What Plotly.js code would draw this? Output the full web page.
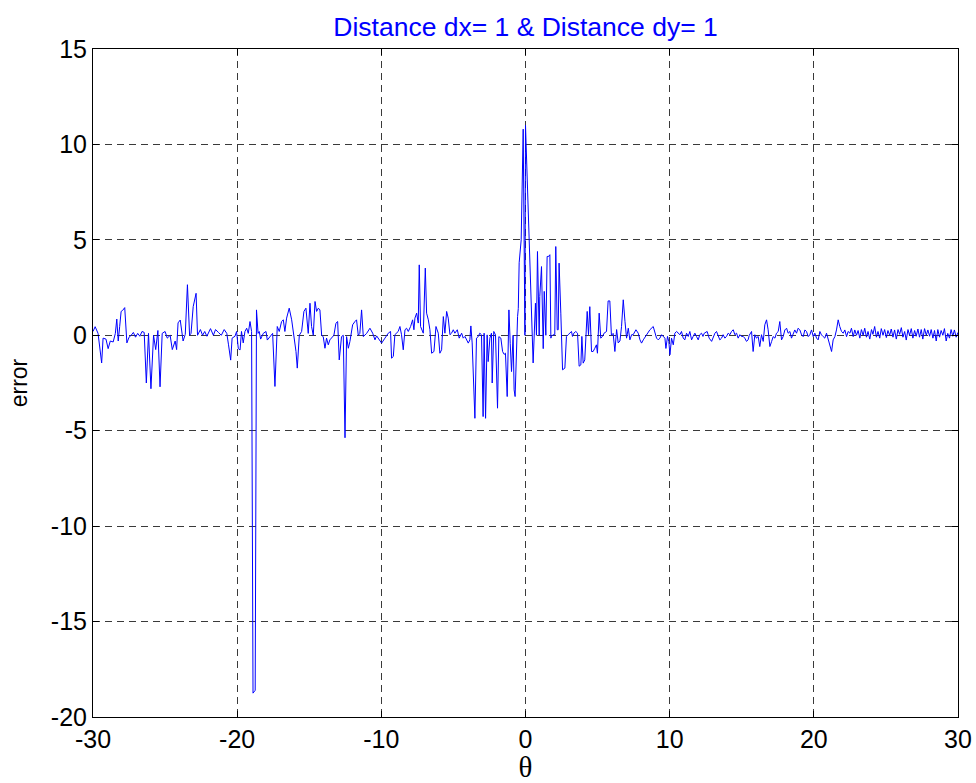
<!DOCTYPE html>
<html>
<head>
<meta charset="utf-8">
<script src="https://cdn.plot.ly/plotly-3.0.1.min.js"></script>
<style>html,body{margin:0;padding:0;background:#fff;}#chart{width:976px;height:783px;}</style>
</head>
<body>
<div id="chart"></div>
<script>
// theta (x) values
const theta = [
-30.0,-29.85,-29.65,-29.4,-29.3,-29.1,-28.95,-28.8,-28.6,-28.45,-28.35,-28.25,-28.15,-28.05,-27.95,-27.8,-27.65,-27.5,-27.35,-27.2,
-27.05,-26.9,-26.75,-26.6,-26.45,-26.3,-26.15,-25.98,-25.8,-25.65,-25.5,-25.35,-25.2,-25.0,-24.85,-24.65,-24.5,-24.3,-24.2,-24.1,
-23.95,-23.75,-23.6,-23.45,-23.3,-23.2,-23.05,-22.85,-22.75,-22.55,-22.4,-22.25,-22.1,-22.0,-21.85,-21.65,-21.5,-21.3,-21.1,-20.9,
-20.72,-20.6,-20.45,-20.35,-20.15,-20.04,-19.92,-19.8,-19.7,-19.58,-19.46,-19.34,-19.23,-19.11,-19.0,-18.9,-18.75,-18.66,-18.55,-18.47,
-18.37,-18.19,-18.0,-17.91,-17.73,-17.54,-17.38,-17.22,-17.08,-16.92,-16.8,-16.69,-16.57,-16.39,-16.22,-16.06,-15.92,-15.83,-15.69,-15.53,
-15.37,-15.23,-15.07,-14.95,-14.84,-14.72,-14.6,-14.49,-14.37,-14.26,-14.14,-14.03,-13.91,-13.8,-13.68,-13.57,-13.45,-13.29,-13.15,-13.03,
-12.92,-12.76,-12.64,-12.52,-12.41,-12.29,-12.18,-11.99,-11.83,-11.72,-11.6,-11.49,-11.37,-11.25,-11.02,-10.79,-10.6,-10.44,-10.33,-10.14,
-9.98,-9.75,-9.52,-9.36,-9.29,-9.17,-9.06,-8.83,-8.71,-8.6,-8.48,-8.36,-8.25,-8.13,-7.97,-7.83,-7.74,-7.67,-7.55,-7.44,
-7.37,-7.28,-7.09,-6.95,-6.86,-6.74,-6.63,-6.51,-6.35,-6.21,-6.05,-5.94,-5.82,-5.7,-5.59,-5.47,-5.36,-5.24,-5.13,-5.01,
-4.9,-4.73,-4.6,-4.43,-4.32,-4.2,-4.09,-3.97,-3.86,-3.79,-3.7,-3.51,-3.4,-3.28,-3.17,-3.05,-2.94,-2.87,-2.77,-2.66,
-2.59,-2.47,-2.36,-2.31,-2.2,-2.08,-1.94,-1.85,-1.71,-1.59,-1.48,-1.39,-1.27,-1.15,-1.06,-0.97,-0.86,-0.79,-0.72,-0.62,
-0.55,-0.5,-0.44,-0.3,-0.16,-0.04,0.0,0.53,0.69,0.76,0.83,0.95,0.99,1.11,1.18,1.23,1.3,1.37,
1.41,1.5,1.6,1.69,1.76,1.8,1.92,2.03,2.1,2.2,2.27,2.33,2.45,2.57,2.73,2.84,2.96,3.07,3.19,3.26,
3.35,3.49,3.61,3.72,3.84,3.91,4.0,4.11,4.18,4.28,4.37,4.46,4.58,4.69,4.81,4.92,4.99,5.11,5.22,5.34,
5.45,5.62,5.73,5.85,5.96,6.08,6.2,6.32,6.43,6.55,6.66,6.78,6.9,7.01,7.13,7.24,7.36,7.47,7.66,7.82,
7.94,8.05,8.17,8.4,8.63,8.86,8.98,9.09,9.21,9.32,9.44,9.67,9.74,9.85,9.94,10.02,10.13,10.25,10.36,10.48,
10.71,10.82,10.94,11.05,11.17,11.29,11.4,11.52,11.63,11.75,11.86,11.98,12.09,12.21,12.31,12.4,12.6,12.74,12.91,13.02,
13.14,13.25,13.37,13.48,13.6,13.71,13.83,13.94,14.06,14.18,14.29,14.41,14.52,14.64,14.75,14.87,14.98,15.1,15.21,15.33,
15.44,15.52,15.68,15.79,15.91,16.02,16.14,16.25,16.37,16.49,16.6,16.72,16.83,16.95,17.07,17.18,17.3,17.41,17.53,17.64,
17.76,17.87,17.99,18.11,18.22,18.34,18.45,18.57,18.68,18.8,18.91,19.03,19.15,19.26,19.38,19.49,19.61,19.72,19.84,19.96,
20.07,20.19,20.3,20.42,20.53,20.65,20.76,20.88,21.0,21.11,21.23,21.34,21.46,21.57,21.69,21.8,21.92,22.04,22.15,22.27,
22.38,22.5,22.61,22.73,22.84,22.96,23.07,23.19,23.3,23.42,23.53,23.65,23.76,23.88,24.0,24.1,24.22,24.34,24.45,24.57,
24.68,24.8,24.91,25.03,25.14,25.26,25.37,25.49,25.6,25.72,25.84,25.95,26.07,26.18,26.3,26.41,26.53,26.64,26.76,26.87,
26.99,27.1,27.22,27.33,27.45,27.56,27.68,27.8,27.91,28.03,28.14,28.26,28.37,28.49,28.6,28.72,28.83,28.95,29.06,29.18,
29.29,29.41,29.52,29.64,29.75,29.87,30.0
];
// error (y) values
const errorVals = [
0.2,0.45,0.1,-1.45,-0.15,-0.2,-0.7,-0.3,-0.35,0.1,0.85,-0.3,0.45,1.25,1.3,1.45,-0.4,-0.1,0.0,0.15,
-0.1,0.1,-0.05,0.2,0.15,-2.5,0.1,-2.8,0.0,-0.75,0.25,-2.7,0.1,0.2,-0.15,0.0,-0.75,-0.3,-0.75,0.65,
0.8,-0.3,0.05,2.65,0.0,0.1,1.5,2.2,0.0,0.3,0.0,0.2,-0.05,0.1,0.35,0.0,0.3,0.15,0.0,0.3,
0.1,-0.5,-1.3,-0.15,-0.05,0.2,-0.7,-0.77,0.2,-0.4,0.2,0.37,0.1,0.72,0.2,-18.75,-18.6,1.33,0.1,0.2,
-0.2,0.1,0.2,-0.25,-0.05,0.1,-2.68,0.46,0.2,0.72,0.81,0.2,0.9,1.42,0.81,0.03,-0.85,-1.72,0.0,0.2,
1.25,1.42,0.1,1.68,0.46,0.0,1.77,1.25,1.42,1.33,0.0,-0.07,-0.68,-0.15,-0.5,-0.24,-0.15,0.0,0.63,0.72,
-1.29,-0.07,0.0,-5.37,-0.07,-0.68,-0.33,0.55,0.72,0.81,0.0,0.1,1.33,-0.07,0.1,0.37,0.11,-0.24,-0.03,-0.24,
-0.41,-0.15,0.11,0.2,-1.2,-1.11,0.03,0.2,0.46,0.03,-0.76,0.29,0.37,0.2,0.46,0.81,0.29,0.9,1.16,0.64,
3.69,0.46,0.11,3.52,1.16,0.81,0.29,-0.94,-0.85,0.46,0.11,-0.94,-0.76,0.98,0.11,1.25,0.9,0.03,0.11,0.29,
0.11,0.29,-0.15,0.11,-0.15,-0.06,-0.24,-0.41,-0.24,0.49,-0.4,-4.35,-0.15,-0.07,0.11,0.02,-4.26,0.11,-4.35,0.02,
-1.38,-0.15,0.11,-2.5,0.2,0.02,-3.82,-0.07,-0.15,-0.85,-1.0,-0.94,-3.21,1.33,-0.42,-1.9,0.0,-2.86,-3.21,0.1,
0.98,1.4,3.8,5.0,10.8,0.0,11.0,-1.45,1.68,0.0,4.39,0.0,2.03,3.6,0.0,-0.7,2.3,0.0,
0.0,4.13,4.13,4.22,-0.15,-0.06,0.03,0.03,4.65,0.29,0.29,3.78,1.16,-1.81,-1.72,-0.06,0.03,0.11,0.2,-0.06,
0.11,0.2,0.11,-1.62,-1.55,-0.06,-1.46,-1.29,-0.24,1.25,0.03,1.5,-0.85,-0.85,-0.68,-0.5,-0.94,1.16,-0.15,-0.06,
0.11,0.2,1.8,1.8,0.0,0.1,-0.85,0.3,-0.4,-0.3,0.45,1.86,0.73,-0.15,0.37,-0.24,0.03,0.03,0.29,0.11,
-0.24,-0.41,-0.24,0.03,0.29,0.46,0.2,-0.15,-0.24,-0.15,0.03,-0.15,-0.69,-0.06,-0.32,-1.02,-0.15,-0.5,0.11,0.2,
0.03,0.2,-0.15,-0.24,0.11,-0.06,0.2,-0.24,-0.06,0.11,-0.06,-0.24,0.03,0.11,-0.06,0.11,0.2,-0.15,-0.32,-0.06,
0.11,0.2,-0.06,-0.24,-0.15,0.03,-0.15,-0.06,0.11,0.03,0.2,0.29,0.03,0.11,-0.15,0.03,-0.06,-0.06,-0.15,-0.32,
-0.24,0.0,0.2,-0.85,0.03,-0.15,-0.06,-0.59,0.03,-0.32,0.55,0.81,0.29,-0.59,-0.33,-0.07,-0.15,0.11,0.2,0.72,
-0.24,-0.07,0.28,0.37,0.11,0.2,-0.15,0.11,0.28,0.11,0.37,0.28,0.02,-0.07,0.28,0.2,-0.07,0.02,0.28,-0.07,
0.11,-0.15,-0.24,0.2,0.02,-0.07,-0.15,0.11,-0.24,-0.5,-0.85,-0.24,-0.07,0.28,0.81,0.46,0.2,0.11,0.28,-0.07,
0.2,0.11,0.37,-0.07,0.28,0.0,0.25,-0.15,0.3,0.0,0.37,-0.1,0.2,-0.2,0.3,0.05,0.46,-0.1,0.2,-0.15,
0.35,0.0,0.3,-0.12,0.25,0.0,0.33,-0.1,0.28,-0.2,0.3,0.05,0.4,-0.1,0.2,-0.25,0.3,0.0,0.35,-0.15,
0.25,-0.05,0.33,-0.1,0.3,-0.2,0.35,0.0,0.28,-0.05,0.3,-0.15,0.25,-0.3,0.3,-0.1,0.25,0.0,0.35,-0.3,
0.1,-0.15,0.3,-0.05,0.28,-0.1,0.15
];
const xTickVals = [-30, -20, -10, 0, 10, 20, 30];
const xTickText = ["-30", "-20", "-10", "0", "10", "20", "30"];
const yTickVals = [-20, -15, -10, -5, 0, 5, 10, 15];
const yTickText = ["-20", "-15", "-10", "-5", "0", "5", "10", "15"];

const tickFont = {family: "Liberation Sans, Arial, sans-serif", size: 25, color: "#000"};
const axisCommon = {
  showline: true, linecolor: "#000", linewidth: 1, mirror: "ticks",
  ticks: "inside", ticklen: 6, tickcolor: "#000", tickwidth: 1,
  showgrid: true, gridcolor: "#3a3a3a", gridwidth: 1, griddash: "7px,5px",
  zeroline: false, tickfont: tickFont, fixedrange: true
};

const trace = {
  x: theta, y: errorVals, type: "scatter", mode: "lines",
  line: {color: "#0000ff", width: 1}, hoverinfo: "skip"
};

const layout = {
  width: 976, height: 783,
  margin: {l: 93, r: 18, t: 49, b: 66},
  paper_bgcolor: "#fff", plot_bgcolor: "#fff",
  showlegend: false,
  title: {
    text: "Distance dx= 1 & Distance dy= 1",
    font: {family: "Liberation Sans, Arial, sans-serif", size: 26.5, color: "#0000ff"},
    x: 0.5, xref: "paper", xanchor: "center",
    y: 1 - 27 / 783, yref: "container", yanchor: "middle"
  },
  xaxis: Object.assign({}, axisCommon, {
    range: [-30, 30], tickmode: "array", tickvals: xTickVals, ticktext: xTickText,
    title: {text: "θ", font: {family: "Liberation Serif, Times New Roman, serif", size: 29, color: "#000"}, standoff: 2}
  }),
  yaxis: Object.assign({}, axisCommon, {
    range: [-20, 15], tickmode: "array", tickvals: yTickVals, ticktext: yTickText,
    title: {text: "error", font: {family: "Liberation Sans, Arial, sans-serif", size: 23, color: "#000"}, standoff: 16}
  })
};

Plotly.newPlot("chart", [trace], layout, {displayModeBar: false, staticPlot: true});
</script>
</body>
</html>
